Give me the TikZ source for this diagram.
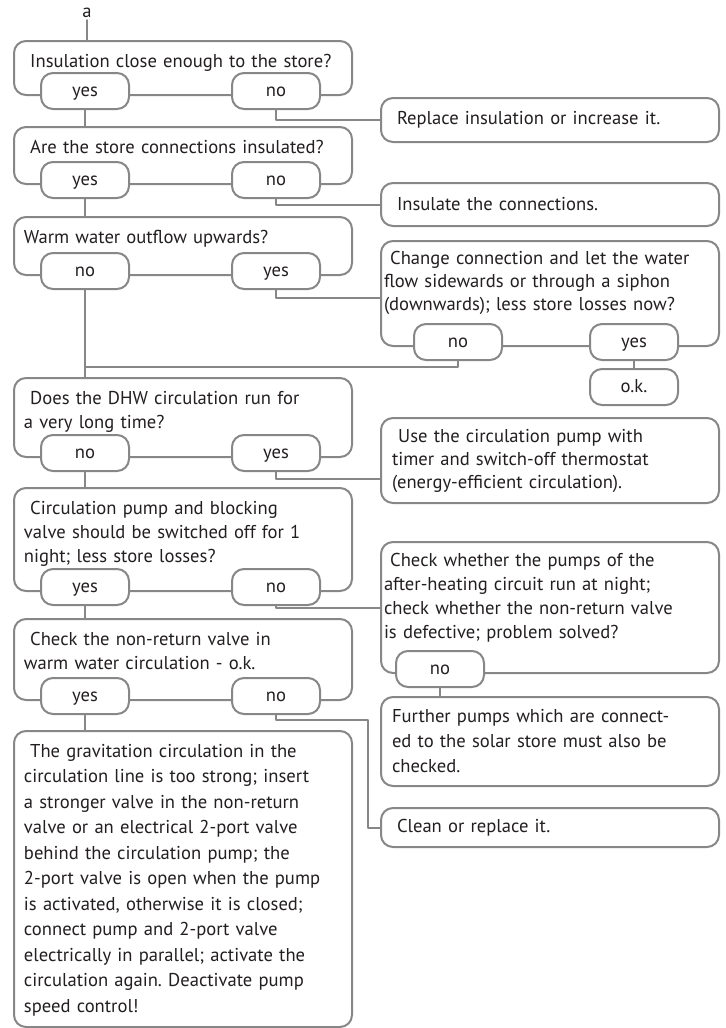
\documentclass[tikz,border=0pt]{standalone}
\usepackage{fontspec}
\setmainfont{PT Sans}
\usepackage{tikz}
\frenchspacing

\definecolor{linegray}{RGB}{135,135,135}
\definecolor{inkdark}{RGB}{35,31,32}

\tikzset{
  box/.style={draw=linegray, line width=1pt, rounded corners=6pt, fill=white,
    text=inkdark, align=left, minimum width=169pt},
  qbox/.style={box, anchor=north, inner xsep=5pt, inner ysep=0pt,
    text width=159pt, text height=13pt},
  abox/.style={box, inner xsep=8pt, text width=153pt},
  pill/.style={draw=linegray, line width=1pt, rounded corners=6pt, fill=white,
    text=inkdark, minimum width=44pt, minimum height=18pt, inner sep=0pt,
    text height=6.5pt, text depth=1.5pt},
  link/.style={draw=linegray, line width=1pt},
}

\begin{document}
\begin{tikzpicture}[x=0.5pt, y=-0.5pt, font=\fontsize{9.3}{12}\selectfont,
    line cap=round, line join=round]
  \useasboundingbox (0,0) rectangle (726,1028);

  % Questions (left column)
  \node[text=inkdark, inner sep=1pt] (a) at (87,13) {a};
  \node[qbox, text depth=14pt] (q1) at (183,40) {\ Insulation close enough to the store?};
  \node[qbox, text depth=15.5pt] (q2) at (183,126) {\ Are the store connections insulated?};
  \node[qbox, text depth=16pt] (q3) at (183,216) {Warm water outflow upwards?};
  \node[qbox, text depth=26.5pt] (q4) at (183,377)
    {\ Does the DHW circulation run for\\a very long time?};
  \node[qbox, text depth=38.5pt] (q5) at (183,487)
    {\ Circulation pump and blocking\\valve should be switched off for 1\\night; less store losses?};
  \node[qbox, text depth=27.5pt] (q6) at (183,618)
    {\ Check the non-return valve in\\warm water circulation - o.k.};
  \node[qbox, text depth=135pt, font=\fontsize{9.3}{12.75}\selectfont] (big) at (183,730)
    {\ The gravitation circulation in the\\circulation line is too strong; insert\\a stronger valve in the non-return\\valve or an electrical 2-port valve\\behind the circulation pump; the\\2-port valve is open when the pump\\is activated, otherwise it is closed;\\connect pump and 2-port valve\\electrically in parallel; activate the\\circulation again. Deactivate pump\\speed control!};

  % Remedies (right column)
  \node[abox, minimum height=22pt] (replace) at (550,120) {Replace insulation or increase it.};
  \node[abox, minimum height=21.5pt] (insul) at (550,204.5) {Insulate the connections.};
  \node[qbox, inner xsep=1.5pt, text width=166pt, text height=11.5pt, text depth=41pt,
    font=\fontsize{9.3}{11.5}\selectfont] (change) at (550,240)
    {\ Change connection and let the water\\\makebox[165pt][s]{flow sidewards or through a siphon}\\(downwards); less store losses now?};
  \node[abox, minimum height=42.5pt, inner xsep=5.5pt, text width=158pt,
    font=\fontsize{9.3}{11.5}\selectfont] (use) at (550,460.5)
    {\ Use the circulation pump with\\timer and switch-off thermostat\\(energy-efficient circulation).};
  \node[qbox, inner xsep=1.5pt, text width=166pt, text height=12pt, text depth=53.5pt] (check) at (550,541)
    {\ Check whether the pumps of the\\after-heating circuit run at night;\\check whether the non-return valve\\is defective; problem solved?};
  \node[abox, minimum height=44.5pt, inner xsep=5.5pt, text width=158pt,
    font=\fontsize{9.3}{12.5}\selectfont] (further) at (550,741.5)
    {Further pumps which are connect-\\ed to the solar store must also be\\checked.};
  \node[abox, minimum height=19.5pt] (clean) at (550,827.5) {Clean or replace it.};

  % Answers
  \node[pill] (q1y) at (85,91) {yes};
  \node[pill] (q1n) at (276,91) {no};
  \node[pill] (q2y) at (85,180) {yes};
  \node[pill] (q2n) at (276,180) {no};
  \node[pill] (q3n) at (85,271) {no};
  \node[pill] (q3y) at (276,271) {yes};
  \node[pill] (chno) at (458,342) {no};
  \node[pill] (chyes) at (634,342) {yes};
  \node[pill] (ok) at (634,387) {o.k.};
  \node[pill] (q4n) at (85,453) {no};
  \node[pill] (q4y) at (276,453) {yes};
  \node[pill] (q5y) at (85,587) {yes};
  \node[pill] (q5n) at (276,587) {no};
  \node[pill] (chkno) at (440,669) {no};
  \node[pill] (q6y) at (85,696) {yes};
  \node[pill] (q6n) at (276,696) {no};

  % Connectors
  \coordinate (join) at (85,367);
  \coordinate (turn) at (368,720);
  \draw[link] (a) -- (a |- q1.north);
  \draw[link] (q1y) -- (q1y |- q2.north);
  \draw[link] (q1n) |- (replace);
  \draw[link] (q2y) -- (q2y |- q3.north);
  \draw[link] (q2n) |- (insul);
  \draw[link] (q3y) |- ([yshift=-2pt]change.west);
  \draw[link] (q3n) -- (q3n |- q4.north);
  \draw[link] (chno) |- (join);
  \draw[link] (chyes) -- (ok);
  \draw[link] (q4y) |- ([yshift=-9pt]use.west);
  \draw[link] (q4n) -- (q4n |- q5.north);
  \draw[link] (q5n) |- (check.west);
  \draw[link] (q5y) -- (q5y |- q6.north);
  \draw[link] (chkno) -- (chkno |- further.north);
  \draw[link] (q6y) -- (q6y |- big.north);
  \draw[link] (q6n) |- (turn) |- (clean);
\end{tikzpicture}
\end{document}
